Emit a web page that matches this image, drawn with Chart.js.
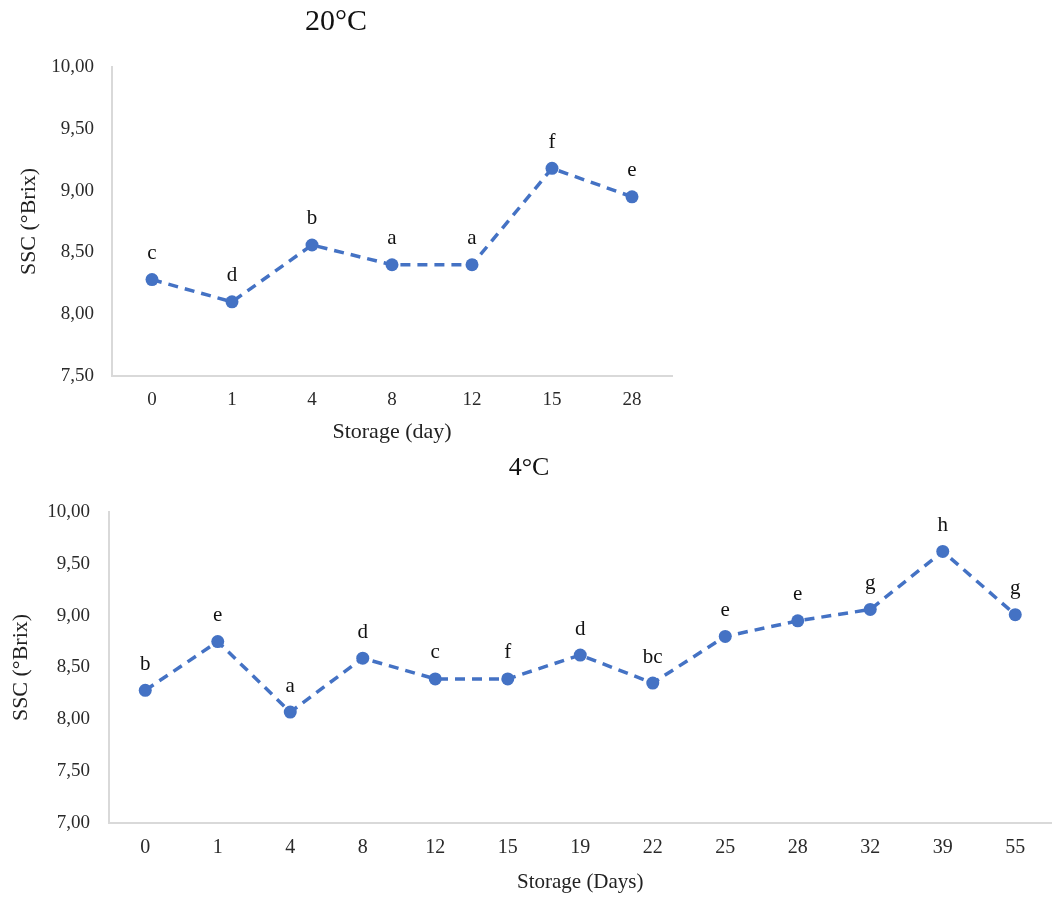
<!DOCTYPE html>
<html>
<head>
<meta charset="utf-8">
<title>SSC storage</title>
<script src="https://cdn.jsdelivr.net/npm/chart.js@4"></script>
<style>
  html, body { margin: 0; padding: 0; background: #fff; overflow: hidden; }
  .box { position: absolute; left: 0; }
  #box20 { top: 0; width: 680px; height: 450px; }
  #box4 { top: 450px; width: 1058px; height: 447px; }
</style>
</head>
<body>
<div class="box" id="box20"><canvas id="chart20"></canvas></div>
<div class="box" id="box4"><canvas id="chart4"></canvas></div>
<script>
// Datos
const days20 = ['0', '1', '4', '8', '12', '15', '28'];
const ssc20 = [8.28, 8.10, 8.56, 8.40, 8.40, 9.18, 8.95];
const letters20 = ['c', 'd', 'b', 'a', 'a', 'f', 'e'];

const days4 = ['0', '1', '4', '8', '12', '15', '19', '22', '25', '28', '32', '39', '55'];
const ssc4 = [8.28, 8.75, 8.07, 8.59, 8.39, 8.39, 8.62, 8.35, 8.80, 8.95, 9.06, 9.62, 9.01];
const letters4 = ['b', 'e', 'a', 'd', 'c', 'f', 'd', 'bc', 'e', 'e', 'g', 'h', 'g'];

const FONT = '"Liberation Serif", "Times New Roman", serif';
const BLUE = '#4472C4';
const AXIS = '#d9d9d9';

// etiquetas de letras encima de cada punto
const letterPlugin = {
  id: 'letters',
  afterDatasetsDraw(chart, args, opts) {
    const { ctx } = chart;
    const meta = chart.getDatasetMeta(0);
    ctx.save();
    ctx.font = `${opts.size}px ${FONT}`;
    ctx.fillStyle = '#111';
    ctx.textAlign = 'center';
    ctx.textBaseline = 'middle';
    meta.data.forEach((pt, i) => {
      ctx.fillText(opts.labels[i], pt.x, pt.y - 26);
    });
    ctx.restore();
  }
};

function buildChart(canvasId, cfg) {
  return new Chart(document.getElementById(canvasId), {
    type: 'line',
    data: {
      labels: cfg.labels,
      datasets: [{
        data: cfg.values,
        borderColor: BLUE,
        backgroundColor: BLUE,
        borderWidth: 3.5,
        borderDash: [10, 7],
        pointRadius: 6.5,
        pointHoverRadius: 6.5,
        pointBorderWidth: 0,
        tension: 0,
        fill: false
      }]
    },
    options: {
      responsive: true,
      maintainAspectRatio: false,
      animation: false,
      layout: { padding: { left: 0, right: cfg.padRight, top: 0, bottom: 0 } },
      plugins: {
        legend: { display: false },
        tooltip: { enabled: false },
        title: {
          display: true,
          text: cfg.title,
          color: '#111',
          font: { family: FONT, size: cfg.titleSize, weight: 'normal' },
          padding: cfg.titlePad
        },
        letters: { labels: cfg.letters, size: 21 }
      },
      scales: {
        x: {
          offset: true,
          grid: { display: false, drawTicks: false },
          border: { display: true, color: AXIS, width: 2 },
          ticks: { color: '#2a2a2a', font: { family: FONT, size: cfg.xTickSize }, padding: cfg.xTickPad },
          title: {
            display: true,
            text: cfg.xTitle,
            color: '#222',
            font: { family: FONT, size: cfg.xTitleSize },
            padding: { top: 0, bottom: cfg.xTitlePad }
          },
          afterFit: (s) => { s.height = cfg.xHeight; }
        },
        y: {
          min: cfg.yMin,
          max: 10,
          grid: { display: false, drawTicks: false },
          border: { display: true, color: AXIS, width: 2 },
          ticks: {
            stepSize: 0.5,
            color: '#2a2a2a',
            font: { family: FONT, size: 19 },
            padding: cfg.yTickPad,
            callback: (v) => Number(v).toFixed(2).replace('.', ',')
          },
          title: {
            display: true,
            text: 'SSC (°Brix)',
            color: '#222',
            font: { family: FONT, size: 22 },
            padding: { top: cfg.yTitlePad, bottom: 0 }
          },
          afterFit: (s) => { s.width = cfg.yWidth; }
        }
      }
    },
    plugins: [letterPlugin]
  });
}

function init() {
  buildChart('chart20', {
    labels: days20, values: ssc20, letters: letters20,
    title: '20°C', titleSize: 30, titlePad: { top: 4, bottom: 27 },
    xTitle: 'Storage (day)', xTitleSize: 22, xTitlePad: 4.8,
    xTickSize: 19, xTickPad: 12.6, xHeight: 74,
    yMin: 7.5, yWidth: 112, yTickPad: 18, yTitlePad: 15.8,
    padRight: 8
  });

  buildChart('chart4', {
    labels: days4, values: ssc4, letters: letters4,
    title: '4°C', titleSize: 26, titlePad: { top: 2.4, bottom: 28.4 },
    xTitle: 'Storage (Days)', xTitleSize: 21, xTitlePad: 2.4,
    xTickSize: 20, xTickPad: 13, xHeight: 74,
    yMin: 7, yWidth: 109, yTickPad: 19, yTitlePad: 7.8,
    padRight: 0
  });
}

document.addEventListener('DOMContentLoaded', init);
</script>
</body>
</html>
